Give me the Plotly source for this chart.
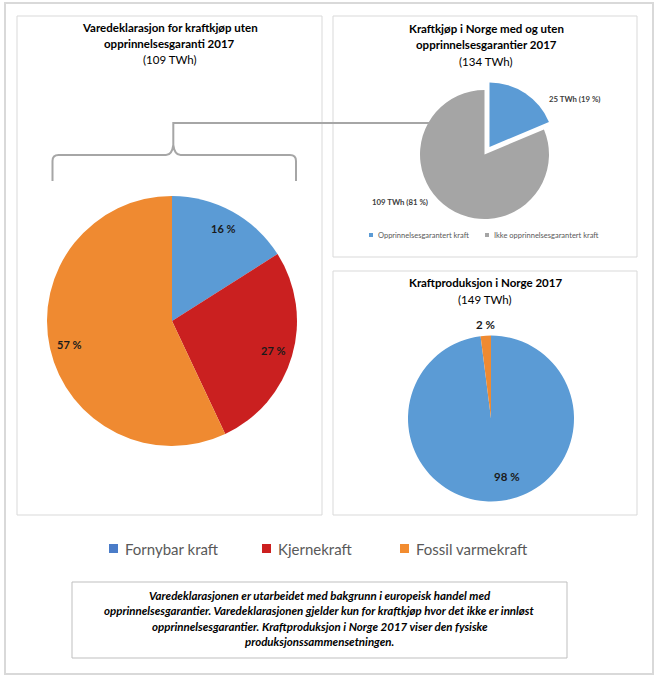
import math
import plotly.graph_objects as go

W, H = 657, 678

# ---------------- data ----------------
left_labels = ["Fornybar kraft", "Kjernekraft", "Fossil varmekraft"]
left_values = [16, 27, 57]  # percent
left_title = ["Varedeklarasjon for kraftkjøp uten", "opprinnelsesgaranti 2017"]
left_sub = "(109 TWh)"

tr_labels = ["Opprinnelsesgarantert kraft", "Ikke opprinnelsesgarantert kraft"]
tr_values = [25, 109]  # TWh
tr_pct = [19, 81]
tr_title = ["Kraftkjøp i Norge med og uten", "opprinnelsesgarantier 2017"]
tr_sub = "(134 TWh)"

br_labels = ["Fornybar kraft", "Fossil varmekraft"]
br_values = [98, 2]  # percent
br_title = ["Kraftproduksjon i Norge 2017"]
br_sub = "(149 TWh)"

note_lines = [
    "Varedeklarasjonen er utarbeidet med bakgrunn i europeisk handel med",
    "opprinnelsesgarantier. Varedeklarasjonen gjelder kun for kraftkjøp hvor det ikke er innløst",
    "opprinnelsesgarantier. Kraftproduksjon i Norge 2017 viser den fysiske",
    "produksjonssammensetningen.",
]

# ---------------- styles ----------------
BLUE = "#5B9BD5"
RED = "#CA2020"
ORANGE = "#EF8A31"
GREY = "#A5A5A5"
color_map = {"Fornybar kraft": BLUE, "Kjernekraft": RED, "Fossil varmekraft": ORANGE,
             "Opprinnelsesgarantert kraft": BLUE, "Ikke opprinnelsesgarantert kraft": GREY}
legend_colors = {"Fornybar kraft": "#4A7CC8", "Kjernekraft": "#CC1F1F", "Fossil varmekraft": "#F28C30"}
FONT = "Lato"


def px(x):
    return x / W


def py(y):
    return 1 - y / H


def dom(cx, cy, half):
    return dict(x=[px(cx - half), px(cx + half)], y=[py(cy + half), py(cy - half)])


fig = go.Figure()

# left pie
L_CX, L_CY, L_R = 172, 321, 125
fig.add_trace(go.Pie(labels=left_labels, values=left_values, sort=False, direction="clockwise",
                     rotation=0, textinfo="none", hoverinfo="label+percent",
                     marker=dict(colors=[color_map[l] for l in left_labels], line=dict(width=0)),
                     domain=dom(L_CX, L_CY, L_R), showlegend=False))

# top-right pie (exploded)
T_CX, T_CY, T_R, T_PULL = 484.5, 154.5, 64.5, 0.14
fig.add_trace(go.Pie(labels=tr_labels, values=tr_values, sort=False, direction="clockwise",
                     rotation=0, textinfo="none", pull=[T_PULL, 0],
                     marker=dict(colors=[color_map[l] for l in tr_labels], line=dict(width=0)),
                     domain=dom(T_CX, T_CY, T_R * (1 + T_PULL)), showlegend=False))

# bottom-right pie
B_CX, B_CY, B_R = 491, 418.5, 83
fig.add_trace(go.Pie(labels=br_labels, values=br_values, sort=False, direction="clockwise",
                     rotation=0, textinfo="none",
                     marker=dict(colors=[color_map[l] for l in br_labels], line=dict(width=0)),
                     domain=dom(B_CX, B_CY, B_R), showlegend=False))

shapes = []
annotations = []


def rect(x0, y0, x1, y1, color, width):
    shapes.append(dict(type="rect", xref="paper", yref="paper", x0=px(x0), x1=px(x1),
                       y0=py(y1), y1=py(y0), line=dict(color=color, width=width),
                       fillcolor="rgba(0,0,0,0)"))


def text(x, y, s, size, color="#000000", bold=False, italic=False, xanchor="center"):
    if bold:
        s = "<b>" + s + "</b>"
    if italic:
        s = "<i>" + s + "</i>"
    annotations.append(dict(x=px(x), y=py(y), xref="paper", yref="paper", text=s,
                            showarrow=False, xanchor=xanchor, yanchor="middle",
                            font=dict(family=FONT, size=size, color=color)))


# outer frame and panels
rect(5, 3, 653, 674, "#D9D9D9", 2)
rect(17, 16, 322, 515, "#D9D9D9", 1)
rect(333, 16, 637, 257, "#D9D9D9", 1)
rect(333, 271, 637, 515, "#D9D9D9", 1)
rect(72, 582, 567, 658, "#BFBFBF", 1)

# brace + connector
def path(cmds):
    out = []
    for c in cmds:
        if isinstance(c, str):
            out.append(c)
        else:
            out.append("%.5f,%.5f" % (px(c[0]), py(c[1])))
    return " ".join(out)

brace = path(["M", (52.5, 181), "L", (52.5, 161), "Q", (52.5, 155), (58.5, 155), "L", (166, 155),
              "Q", (172, 155), (173.3, 145), "L", (173.3, 123), "L", (430, 123),
              "M", (173.3, 145), "Q", (174.6, 155), (180.6, 155), "L", (290, 155),
              "Q", (296, 155), (296, 161), "L", (296, 181)])
shapes.append(dict(type="path", xref="paper", yref="paper", path=brace,
                   line=dict(color="#A6A6A6", width=2)))

# titles
TITLE_SIZE = 11.5
for i, s in enumerate(left_title):
    text(169.5, 27.5 + 16 * i, s, TITLE_SIZE, bold=True)
text(169.5, 59.5, left_sub, TITLE_SIZE)
for i, s in enumerate(tr_title):
    text(486, 29 + 16 * i, s, TITLE_SIZE, bold=True)
text(486, 61.5, tr_sub, TITLE_SIZE)
text(485, 282.5, br_title[0], TITLE_SIZE, bold=True)
text(485, 299.5, br_sub, TITLE_SIZE)

# left pie labels at slice bisectors
total = sum(left_values)
cum = 0
for v in left_values:
    frac = (cum + v / 2) / total
    a = 2 * math.pi * frac
    text(L_CX + 0.845 * L_R * math.sin(a), L_CY - 0.845 * L_R * math.cos(a), "%d %%" % v, 11,
         color="#1A1A1A", bold=True)
    cum += v

# top-right labels
text(547, 99, "%d TWh (%d %%)" % (tr_values[0], tr_pct[0]), 7.8, color="#404040", bold=True,
     xanchor="left")
text(429.5, 202.5, "%d TWh (%d %%)" % (tr_values[1], tr_pct[1]), 7.8, color="#404040", bold=True,
     xanchor="right")

# top-right legend
tr_leg_x = [369, 485]
for i, lab in enumerate(tr_labels):
    x0 = tr_leg_x[i]
    shapes.append(dict(type="rect", xref="paper", yref="paper", x0=px(x0), x1=px(x0 + 4),
                       y0=py(237), y1=py(233), line=dict(width=0), fillcolor=color_map[lab]))
    text(x0 + 7, 235, lab, 7.5, color="#595959", xanchor="left")

# bottom-right labels
text(485, 324, "%d %%" % br_values[1], 11.5, color="#1A1A1A", bold=True)
text(507, 476, "%d %%" % br_values[0], 11.5, color="#1A1A1A", bold=True)

# main legend
leg_x = [109, 262, 400]
for i, lab in enumerate(left_labels):
    x0 = leg_x[i]
    shapes.append(dict(type="rect", xref="paper", yref="paper", x0=px(x0), x1=px(x0 + 9),
                       y0=py(553), y1=py(544), line=dict(width=0), fillcolor=legend_colors[lab]))
    text(x0 + 14, 548.5, lab, 15, color="#595959", xanchor="left")

# note text
for i, s in enumerate(note_lines):
    text(319.5, 595 + 15.5 * i, s, 11.5, color="#000000", bold=True, italic=True)

fig.update_layout(width=W, height=H, autosize=False, margin=dict(l=0, r=0, t=0, b=0),
                  paper_bgcolor="white", plot_bgcolor="white", shapes=shapes,
                  annotations=annotations, showlegend=False,
                  font=dict(family=FONT))

fig.write_html("out.html", config={"displayModeBar": False},
               post_script="document.body.style.margin='0';document.body.style.overflow='hidden';")
